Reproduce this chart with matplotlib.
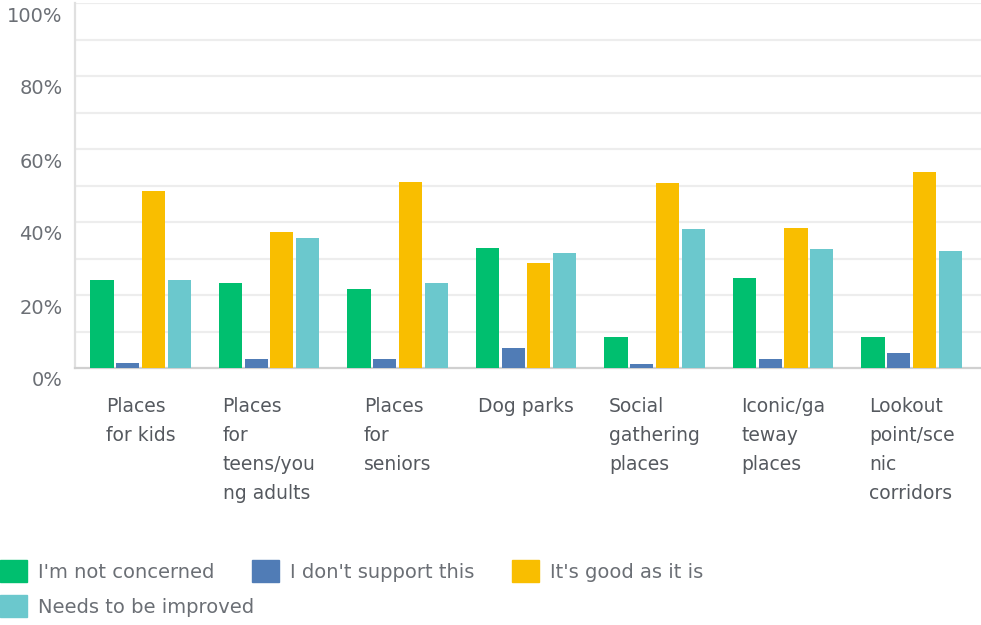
import matplotlib.pyplot as plt
import matplotlib.transforms as mtransforms
from matplotlib.patches import Patch
import numpy as np

plt.rcParams['font.family'] = ['DejaVu Sans']

categories = ["Places\nfor kids", "Places\nfor\nteens/you\nng adults", "Places\nfor\nseniors",
              "Dog parks", "Social\ngathering\nplaces", "Iconic/ga\nteway\nplaces",
              "Lookout\npoint/sce\nnic\ncorridors"]
series_names = ["I'm not concerned", "I don't support this", "It's good as it is", "Needs to be improved"]
not_concerned = [24.1, 23.2, 21.6, 33.0, 8.6, 24.7, 8.6]
dont_support = [1.3, 2.6, 2.6, 5.6, 1.1, 2.5, 4.0]
good_as_is = [48.6, 37.2, 51.0, 28.7, 50.6, 38.4, 53.6]
needs_improved = [24.0, 35.7, 23.2, 31.6, 38.1, 32.6, 32.0]
colors = ["#00bf6f", "#507cb6", "#f9be00", "#6bc8cd"]

fig = plt.figure(figsize=(9.81, 6.25), dpi=100)
ax = fig.add_axes([75 / 981, 1 - 368 / 625, 1 - 75 / 981, (368 - 3) / 625])

x = np.arange(len(categories))
all_series = [not_concerned, dont_support, good_as_is, needs_improved]
for k, vals in enumerate(all_series):
    ax.bar(x + (k - 1.5) * 0.2, vals, width=0.18, color=colors[k], zorder=3)

ax.set_xlim(-0.51, 6.54)
ax.set_ylim(0, 100)

for g in range(10, 101, 10):
    ax.axhline(g, color="#ededed", lw=1.6, zorder=1)

ax.set_yticks(range(0, 101, 20))
ax.set_yticklabels([f"{v}%" for v in range(0, 101, 20)], fontsize=14, color="#6b6f75")
ax.tick_params(axis="y", length=0, pad=9)
offset = mtransforms.ScaledTranslation(0, -11 / 100, fig.dpi_scale_trans)
for lab in ax.get_yticklabels():
    lab.set_transform(lab.get_transform() + offset)

ax.set_xticks(x)
ax.set_xticklabels(categories, fontsize=13.5, color="#55595f", linespacing=1.66,
                   multialignment="left", va="top")
ax.tick_params(axis="x", length=0, pad=21)

for s in ["top", "right"]:
    ax.spines[s].set_visible(False)
ax.spines["left"].set_color("#e0e0e0")
ax.spines["left"].set_linewidth(1.6)
ax.spines["bottom"].set_color("#d0d0d0")
ax.spines["bottom"].set_linewidth(1.6)

# legend: flowing rows, first row three entries, second row one
handles = [Patch(facecolor=c, edgecolor=c) for c in colors]
leg_kw = dict(loc="upper left", frameon=False, fontsize=14, labelcolor="#6b6f75",
              handlelength=1.39, handleheight=1.39, handletextpad=0.55,
              columnspacing=1.95, borderaxespad=0, borderpad=0)
fig.legend(handles[:3], series_names[:3], ncol=3,
           bbox_to_anchor=(0.0, 1 - 560 / 625), **leg_kw)
fig.legend(handles[3:], series_names[3:], ncol=1,
           bbox_to_anchor=(0.0, 1 - 595 / 625), **leg_kw)

fig.savefig("out.png", dpi=100)
